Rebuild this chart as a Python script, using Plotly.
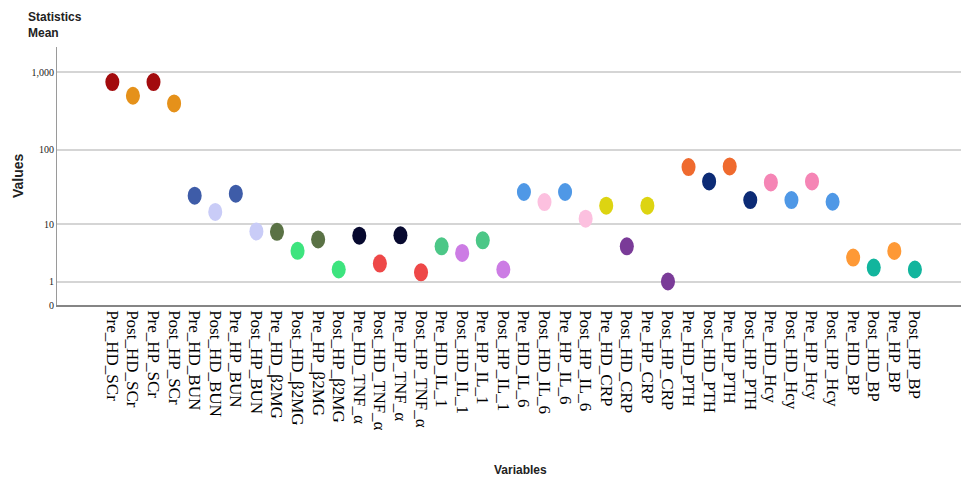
import numpy as np
import plotly.graph_objects as go

# Variable names (x categories)
variables = [
    "Pre_HD_SCr", "Post_HD_SCr", "Pre_HP_SCr", "Post_HP_SCr",
    "Pre_HD_BUN", "Post_HD_BUN", "Pre_HP_BUN", "Post_HP_BUN",
    "Pre_HD_β2MG", "Post_HD_β2MG", "Pre_HP_β2MG", "Post_HP_β2MG",
    "Pre_HD_TNF_α", "Post_HD_TNF_α", "Pre_HP_TNF_α", "Post_HP_TNF_α",
    "Pre_HD_IL_1", "Post_HD_IL_1", "Pre_HP_IL_1", "Post_HP_IL_1",
    "Pre_HD_IL_6", "Post_HD_IL_6", "Pre_HP_IL_6", "Post_HP_IL_6",
    "Pre_HD_CRP", "Post_HD_CRP", "Pre_HP_CRP", "Post_HP_CRP",
    "Pre_HD_PTH", "Post_HD_PTH", "Pre_HP_PTH", "Post_HP_PTH",
    "Pre_HD_Hcy", "Post_HD_Hcy", "Pre_HP_Hcy", "Post_HP_Hcy",
    "Pre_HD_BP", "Post_HD_BP", "Pre_HP_BP", "Post_HP_BP",
]

# Mean value of each variable
means = [
    752, 500, 752, 398,
    24.7, 14.9, 26.3, 7.9,
    7.8, 4.0, 6.0, 1.87,
    6.85, 2.42, 6.92, 1.64,
    4.72, 3.70, 5.84, 1.87,
    27.7, 20.3, 27.7, 12.0,
    18.1, 4.72, 18.1, 1.01,
    59.2, 38.3, 60.3, 21.6,
    37.1, 21.6, 38.3, 20.5,
    3.09, 2.04, 3.99, 1.87,
]

# Y-axis tick values (safe-log scale)
tick_values = [0, 1, 10, 100, 1000]
tick_labels = ["0", "1", "10", "100", "1,000"]

# One colour per variable
colors = [
    "#A30B0D", "#E5911A", "#A30B0D", "#E5911A",
    "#3E5CA8", "#C9CCF7", "#3E5CA8", "#C9CCF7",
    "#5A7245", "#3DE47E", "#5A7245", "#3DE47E",
    "#07092F", "#EE4848", "#07092F", "#EE4848",
    "#4CC787", "#CC7CE4", "#4CC787", "#CC7CE4",
    "#4F98E6", "#FCC0DF", "#4F98E6", "#FCC0DF",
    "#DDD411", "#7A3B98", "#DDD411", "#7A3B98",
    "#EF6A2E", "#0C2B75", "#EF6A2E", "#0C2B75",
    "#F585B5", "#4F98E6", "#F585B5", "#4F98E6",
    "#FE9936", "#12B59D", "#FE9936", "#12B59D",
]


def safe_log(v):
    v = np.asarray(v, dtype=float)
    return np.sign(v) * np.log10(1 + np.abs(v))


x = np.arange(len(variables))
y = safe_log(means)

fig = go.Figure()
fig.add_trace(go.Scatter(
    x=x, y=y, mode="markers",
    marker=dict(size=13, color=colors, line=dict(width=0)),
    hovertext=[f"{n}: {m}" for n, m in zip(variables, means)],
    hoverinfo="text",
    showlegend=False,
))

# Elliptical dots, anchored at each data point, sized in pixels
for xi, yi, c in zip(x, y, colors):
    fig.add_shape(
        type="circle", xref="x", yref="y",
        xsizemode="pixel", ysizemode="pixel",
        xanchor=float(xi), yanchor=float(yi),
        x0=-7, x1=7, y0=-9, y1=9,
        fillcolor=c, line=dict(width=0), layer="above",
    )

fig.update_layout(
    width=961, height=479,
    margin=dict(l=57, r=0, t=47, b=174),
    paper_bgcolor="white", plot_bgcolor="white",
    xaxis=dict(
        range=[-2.69, 41.24],
        tickmode="array", tickvals=x, ticktext=variables,
        tickangle=90,
        tickfont=dict(family="Liberation Serif", size=17, color="#000"),
        showgrid=False, zeroline=False,
        showline=True, linecolor="#858585", linewidth=1.5,
        ticks="", fixedrange=True,
    ),
    yaxis=dict(
        range=[0, 3.329],
        tickmode="array", tickvals=safe_log(tick_values), ticktext=tick_labels,
        tickfont=dict(family="Liberation Serif", size=10, color="#222"),
        showgrid=True, gridcolor="#D5D5D5", gridwidth=1.5,
        zeroline=False,
        showline=True, linecolor="#9A9A9A", linewidth=1,
        ticks="", fixedrange=True,
    ),
    annotations=[
        dict(text="<b>Statistics<br>Mean</b>", xref="paper", yref="paper",
             x=0, y=1, xshift=-31, yshift=39, xanchor="left", yanchor="top",
             align="left", showarrow=False,
             font=dict(family="Liberation Sans", size=12, color="#222")),
        dict(text="<b>Values</b>", xref="paper", yref="paper",
             x=0, y=0.5, xshift=-39, xanchor="center", yanchor="middle",
             textangle=-90, showarrow=False,
             font=dict(family="Liberation Sans", size=14, color="#222")),
        dict(text="<b>Variables</b>", xref="paper", yref="paper",
             x=0.513, y=0, yshift=-165, xanchor="center", yanchor="middle",
             showarrow=False,
             font=dict(family="Liberation Sans", size=12, color="#222")),
    ],
)

fig.write_html("out.html")
